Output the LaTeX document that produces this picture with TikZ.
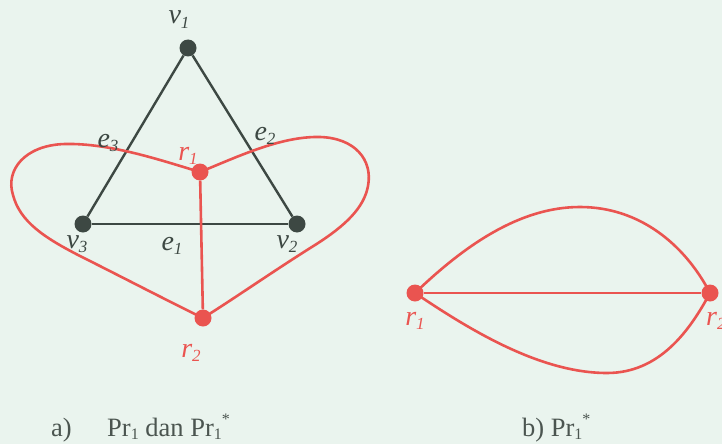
\documentclass[tikz,border=0pt]{standalone}
\usepackage{fontspec}
\setmainfont{Liberation Serif}
\definecolor{dk}{RGB}{61,72,67}
\definecolor{rd}{RGB}{234,84,80}
\definecolor{bgc}{RGB}{234,244,238}
\definecolor{txt}{RGB}{75,85,80}
\newcommand{\lsub}[1]{\raisebox{-0.17em}{\fontsize{17}{17}\selectfont #1}}
\newcommand{\csub}[1]{\raisebox{-0.15em}{\fontsize{16}{16}\selectfont #1}}
\newcommand{\csup}[1]{\raisebox{0.45em}{\fontsize{16}{16}\selectfont #1}}
\pgfdeclarelayer{back}
\pgfdeclarelayer{edgelayer}
\pgfsetlayers{back,edgelayer,main}
\begin{document}
\begin{tikzpicture}[x=1pt,y=-1pt,
  vdot/.style={circle,fill=dk,inner sep=0pt,minimum size=17pt},
  rdot/.style={circle,fill=rd,inner sep=0pt,minimum size=17pt},
  bedge/.style={draw=dk,line width=2.4pt},
  redge/.style={draw=rd,line width=2.6pt},
  lbl/.style={font=\fontsize{28}{28}\selectfont\itshape,text=dk,inner sep=0pt,anchor=base},
  rlbl/.style={lbl,text=rd},
  captxt/.style={font=\fontsize{26.5}{26.5}\selectfont,text=txt,inner sep=0pt,anchor=base west}]
\useasboundingbox (0,0) rectangle (722,444);
\begin{pgfonlayer}{back}
\fill[bgc] (0,0) rectangle (722,444);
\end{pgfonlayer}
% left graph
\node[vdot] (v1) at (188,48) {};
\node[vdot] (v3) at (83,224) {};
\node[vdot] (v2) at (297,224) {};
\node[rdot] (r1) at (200,172) {};
\node[rdot] (r2) at (203,318) {};
% right graph
\node[rdot] (s1) at (415,293) {};
\node[rdot] (s2) at (710,293) {};
\begin{pgfonlayer}{edgelayer}
\draw[bedge] (v1) -- (v2);
\draw[bedge] (v1) -- (v3);
\draw[bedge] (v3) -- (v2);
\draw[redge] (r1) -- (r2);
\draw[redge] (r1.center) .. controls (160,160) and (110,143) .. (65,144)
  .. controls (25,145) and (5,170) .. (13,195)
  .. controls (20,222) and (45,238) .. (80,256)
  .. controls (120,276) and (170,302) .. (r2.center);
\draw[redge] (r1.center) .. controls (235,158) and (280,136) .. (320,137)
  .. controls (355,138) and (373,160) .. (368,186)
  .. controls (364,208) and (345,226) .. (315,245)
  .. controls (275,270) and (235,298) .. (r2.center);
\draw[redge] (s1) -- (s2);
\draw[redge] (s1.center) .. controls (465,245) and (520,207) .. (580,207)
  .. controls (640,207) and (685,245) .. (s2.center);
\draw[redge] (s1.center) .. controls (470,330) and (540,373) .. (607,373)
  .. controls (660,373) and (690,330) .. (s2.center);
\end{pgfonlayer}
% labels
\node[lbl] (lv1) at (179,24) {v\lsub{1}};
\node[lbl] (le3) at (108,147) {e\lsub{3}};
\node[lbl] (le2) at (265,140) {e\lsub{2}};
\node[rlbl] (lr1) at (188,160) {r\lsub{1}};
\node[lbl] (lv3) at (77,248) {v\lsub{3}};
\node[lbl] (le1) at (172,250) {e\lsub{1}};
\node[lbl] (lv2) at (287,248) {v\lsub{2}};
\node[rlbl] (lr2) at (191,357) {r\lsub{2}};
\node[rlbl] (ls1) at (415,325) {r\lsub{1}};
\node[rlbl,anchor=base west] (ls2) at (706,325) {r\lsub{2}};
% captions
\node[captxt] (ca) at (51,436) {a)};
\node[captxt] (cat) at (107,436) {Pr\csub{1} dan Pr\csub{1}\csup{*}};
\node[captxt] (cb) at (522,436) {b) Pr\csub{1}\csup{*}};
\end{tikzpicture}
\end{document}
